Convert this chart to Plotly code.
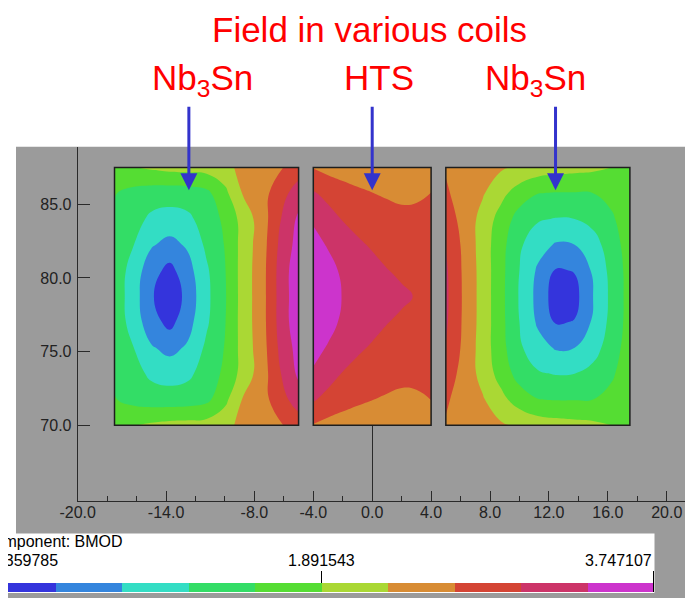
import numpy as np
import plotly.graph_objects as go

W, H = 693, 598
OFF = 8  # page body margin; all pixel positions below are page pixels

# ---------------- legend / colour scale ----------------
B_MIN = 0.0359785
B_MID = 1.891543
B_MAX = 3.747107
N_BANDS = 10
band_colors = ["#3434dc", "#3485dd", "#33ddc4", "#33dd66", "#55dd33",
               "#aad834", "#d88c34", "#d44434", "#cc3468", "#cc34cc"]
legend_title = "Component: BMOD"
legend_labels = ["0.0359785", "1.891543", "3.747107"]

# ---------------- axes ----------------
x_tick_vals = [-20, -14, -8, -4, 0, 4, 8, 12, 16, 20]
x_minor_vals = [-18, -16, -12, -10, -6, -2, 2, 6, 10, 14, 18]
y_tick_vals = [70, 75, 80, 85]

# ---------------- coils ----------------
coil_names = ["Nb<sub>3</sub>Sn", "HTS", "Nb<sub>3</sub>Sn"]
coil_x0 = [-17.5, -4.0, 5.0]
coil_x1 = [-5.0, 4.0, 17.5]
coil_y0 = 70.0
coil_y1 = 87.5
arrow_x = [-12.45, 0.0, 12.45]
arrow_tip_y = 85.95

coil_y = [70.0, 71.75, 73.5, 75.25, 77.0, 78.75, 80.5, 82.25, 84.0, 85.75, 87.5]

# Field level read from the colour bands (0 = bottom of dark-blue band, 10 = top of magenta)
# rows listed top (y=87.5) to bottom (y=70.0)
left_x = [-17.5, -16.25, -15.0, -13.75, -12.5, -11.25, -10.0, -8.75, -7.5, -6.25, -5.0]
left_level = [
    [4.5, 4.95, 5.15, 5.3, 5.35, 5.4, 5.65, 6.35, 6.55, 6.9, 7.5],
    [4.05, 3.7, 3.5, 3.45, 3.5, 3.75, 4.75, 6.1, 6.6, 7.6, 8.5],
    [3.9, 3.4, 2.8, 2.6, 2.8, 3.45, 4.2, 5.4, 6.5, 7.95, 9.2],
    [3.75, 3.05, 2.1, 1.7, 2.15, 3.2, 4.05, 5.4, 6.55, 8.2, 9.4],
    [3.65, 2.6, 1.4, 0.7, 1.65, 2.85, 3.95, 5.45, 6.6, 8.35, 9.7],
    [3.6, 2.52, 1.13, 0.2, 1.4, 2.76, 3.9, 5.45, 6.6, 8.35, 9.7],
    [3.65, 2.6, 1.4, 0.7, 1.65, 2.85, 3.95, 5.45, 6.6, 8.35, 9.7],
    [3.75, 3.05, 2.1, 1.7, 2.15, 3.2, 4.05, 5.4, 6.55, 8.2, 9.4],
    [3.9, 3.4, 2.8, 2.6, 2.8, 3.45, 4.2, 5.4, 6.5, 7.95, 9.2],
    [4.05, 3.7, 3.5, 3.45, 3.5, 3.75, 4.75, 6.1, 6.6, 7.6, 8.5],
    [4.5, 4.95, 5.15, 5.3, 5.35, 5.4, 5.65, 6.35, 6.55, 6.9, 7.5],
]

hts_x = [-4.0, -3.0, -2.0, -1.0, 0.0, 1.0, 2.0, 3.0, 4.0]
hts_level = [
    [6.95, 6.7, 6.5, 6.4, 6.3, 6.25, 6.2, 6.25, 6.35],
    [8.1, 7.7, 7.45, 7.2, 7.02, 6.9, 6.8, 6.85, 7.02],
    [8.85, 8.4, 7.95, 7.7, 7.5, 7.35, 7.25, 7.25, 7.2],
    [9.4, 8.9, 8.5, 8.15, 7.9, 7.7, 7.6, 7.5, 7.4],
    [9.8, 9.4, 8.8, 8.55, 8.3, 8.03, 7.85, 7.75, 7.6],
    [9.95, 9.55, 8.95, 8.7, 8.5, 8.35, 8.15, 7.95, 7.7],
    [9.8, 9.4, 8.8, 8.55, 8.3, 8.03, 7.85, 7.75, 7.6],
    [9.4, 8.9, 8.5, 8.15, 7.9, 7.7, 7.6, 7.5, 7.4],
    [8.85, 8.4, 7.95, 7.7, 7.5, 7.35, 7.25, 7.25, 7.2],
    [8.1, 7.7, 7.45, 7.2, 7.02, 6.9, 6.8, 6.85, 7.02],
    [6.95, 6.7, 6.5, 6.4, 6.3, 6.25, 6.2, 6.25, 6.35],
]

right_x = [5.0, 6.25, 7.5, 8.75, 10.0, 11.25, 12.5, 13.75, 15.0, 16.25, 17.5]
right_level = [
    [6.9, 6.5, 6.3, 6.12, 5.85, 5.55, 5.4, 5.3, 5.2, 5.0, 4.8],
    [7.15, 6.5, 6.1, 5.3, 4.5, 4.02, 3.95, 3.95, 4.0, 4.3, 4.7],
    [7.5, 6.65, 5.65, 4.6, 3.6, 3.1, 2.95, 3.0, 3.3, 3.85, 4.6],
    [7.95, 6.75, 5.55, 4.35, 3.15, 2.4, 1.9, 2.0, 2.6, 3.5, 4.5],
    [8.15, 6.8, 5.6, 4.3, 3.0, 1.85, 0.9, 1.05, 2.15, 3.3, 4.4],
    [8.2, 6.82, 5.6, 4.29, 2.92, 1.7, 0.47, 0.67, 2.0, 3.24, 4.4],
    [8.15, 6.8, 5.6, 4.3, 3.0, 1.85, 0.9, 1.05, 2.15, 3.3, 4.4],
    [7.95, 6.75, 5.55, 4.35, 3.15, 2.4, 1.9, 2.0, 2.6, 3.5, 4.5],
    [7.5, 6.65, 5.65, 4.6, 3.6, 3.1, 2.95, 3.0, 3.3, 3.85, 4.6],
    [7.15, 6.5, 6.1, 5.3, 4.5, 4.02, 3.95, 3.95, 4.0, 4.3, 4.7],
    [6.9, 6.5, 6.3, 6.12, 5.85, 5.55, 5.4, 5.3, 5.2, 5.0, 4.8],
]

# ---------------- derived scale ----------------
B_STEP = (B_MAX - B_MIN) / N_BANDS
levels = [B_MIN + k * B_STEP for k in range(N_BANDS + 1)]


def to_bmod(level_rows):
    arr = np.array(level_rows[::-1], dtype=float)  # bottom-to-top
    return B_MIN + arr * B_STEP


cscale = [[k / (N_BANDS - 1), c] for k, c in enumerate(band_colors)]


# ---------------- pixel layout helpers (page px -> paper) ----------------
def pxx(p):
    return (p - OFF) / W


def pxy(p):
    return 1 - (p - OFF) / H


GRAY = "#9b9b9b"
AX_COL = "#2a2a2a"
FONT = "Arial, Liberation Sans, sans-serif"

X_LEFT_PX, X_AXIS_PX, TOP_PX = 77.7, 501.0, 146.7
PX_PER_UNIT = 14.725
x_range = [-20.0, -20.0 + (W + OFF - X_LEFT_PX) / PX_PER_UNIT]
y85_px = 204.3
y_range = [85 - (X_AXIS_PX - y85_px) / PX_PER_UNIT, 85 + (y85_px - TOP_PX) / PX_PER_UNIT]

fig = go.Figure()

for xs, lv in [(left_x, left_level), (hts_x, hts_level), (right_x, right_level)]:
    fig.add_trace(go.Contour(
        x=xs, y=coil_y, z=to_bmod(lv),
        autocontour=False,
        contours=dict(start=levels[1], end=levels[N_BANDS - 1], size=B_STEP,
                      coloring="fill", showlines=False),
        colorscale=cscale, showscale=False,
        line=dict(width=0, smoothing=1.3),
        hoverinfo="skip", xaxis="x", yaxis="y",
    ))

# legend colour bar (bottom) as a heatmap on its own axes
BAR_L_PX, BAR_R_PX = -11.0, 654.0
BAR_T_PX, BAR_B_PX = 583.0, 592.0
x2_lo = B_MIN + (OFF - BAR_L_PX) / (BAR_R_PX - BAR_L_PX) * (B_MAX - B_MIN)

fig.add_trace(go.Heatmap(
    x=levels, y=[0, 1], z=[list(range(N_BANDS))],
    colorscale=cscale, zmin=0, zmax=N_BANDS - 1,
    showscale=False, hoverinfo="skip", xaxis="x2", yaxis="y2",
))

# legend texts that run off the left edge (clipped by their own axes)
FS_LEG = 16
fig.add_trace(go.Scatter(
    x=[-17, -17.5], y=[547 - 4, 565.5 - 4],
    text=[legend_title, legend_labels[0]], mode="text", textposition="middle right",
    textfont=dict(family=FONT, size=FS_LEG, color="black"),
    cliponaxis=True, hoverinfo="skip", xaxis="x3", yaxis="y3",
))

shapes = []
shapes.append(dict(type="rect", xref="paper", yref="paper", x0=pxx(16), x1=1.05,
                   y0=-0.05, y1=pxy(TOP_PX), fillcolor=GRAY, line=dict(width=0), layer="below"))
shapes.append(dict(type="rect", xref="paper", yref="paper", x0=-0.05, x1=pxx(BAR_R_PX + 0.5),
                   y0=pxy(593), y1=pxy(533.5), fillcolor="white", line=dict(width=0), layer="below"))
shapes.append(dict(type="rect", xref="paper", yref="paper", x0=-0.05, x1=pxx(16),
                   y0=-0.05, y1=pxy(593), fillcolor=GRAY, line=dict(width=0), layer="below"))
for a, b in zip(coil_x0, coil_x1):
    shapes.append(dict(type="rect", xref="x", yref="y", x0=a, x1=b, y0=coil_y0, y1=coil_y1,
                       line=dict(color="#1e1e1e", width=1.5), fillcolor="rgba(0,0,0,0)", layer="above"))
shapes.append(dict(type="line", xref="x2", yref="paper", x0=B_MID, x1=B_MID,
                   y0=pxy(BAR_T_PX), y1=pxy(571), line=dict(color="black", width=1)))
shapes.append(dict(type="line", xref="paper", yref="paper", x0=pxx(BAR_R_PX - 0.5), x1=pxx(BAR_R_PX - 0.5),
                   y0=pxy(BAR_B_PX), y1=pxy(571), line=dict(color="black", width=1)))

annotations = []
annotations.append(dict(text="Field in various coils", xref="paper", yref="paper",
                        x=pxx(369), y=pxy(8.2), xanchor="center", yanchor="top",
                        showarrow=False, font=dict(family=FONT, size=35, color="#ff0000")))
label_px = [202.5, 379.0, 535.0]
for name, lx in zip(coil_names, label_px):
    annotations.append(dict(text=name, xref="paper", yref="paper",
                            x=pxx(lx), y=pxy(55.5), xanchor="center", yanchor="top",
                            showarrow=False, font=dict(family=FONT, size=35, color="#ff0000")))
for ax_ in arrow_x:
    annotations.append(dict(text="", x=ax_, y=arrow_tip_y, xref="x", yref="y",
                            showarrow=True, ax=0, ay=-85, arrowhead=2, arrowsize=1.13,
                            arrowwidth=3, arrowcolor="#3333cc"))
annotations.append(dict(text=legend_labels[1], xref="paper", yref="paper", x=pxx(321.7),
                        y=pxy(565.5 - 0.905 * FS_LEG - 1), xanchor="center", yanchor="top",
                        showarrow=False, font=dict(family=FONT, size=FS_LEG, color="black")))
annotations.append(dict(text=legend_labels[2], xref="paper", yref="paper", x=pxx(653.5),
                        y=pxy(565.5 - 0.905 * FS_LEG - 1), xanchor="right", yanchor="top",
                        showarrow=False, font=dict(family=FONT, size=FS_LEG, color="black")))

hidden = dict(visible=False, fixedrange=True, automargin=False)
fig.update_layout(
    width=W, height=H, autosize=False,
    margin=dict(l=0, r=0, t=0, b=0, pad=0, autoexpand=False),
    paper_bgcolor="white", plot_bgcolor="rgba(0,0,0,0)",
    showlegend=False,
    xaxis=dict(domain=[pxx(X_LEFT_PX), 1.0], range=x_range, anchor="y", automargin=False,
               tickmode="array", tickvals=x_tick_vals,
               ticktext=[f"{v:.1f}" for v in x_tick_vals],
               ticks="inside", ticklen=10, tickwidth=1, tickcolor=AX_COL,
               ticklabelstandoff=-3,
               minor=dict(tickmode="array", tickvals=x_minor_vals, ticks="inside",
                          ticklen=5, tickwidth=1, tickcolor=AX_COL),
               showline=True, linecolor=AX_COL, linewidth=1,
               showgrid=False, zeroline=True, zerolinecolor=AX_COL, zerolinewidth=1,
               tickfont=dict(family=FONT, size=16, color="#222222")),
    yaxis=dict(domain=[pxy(X_AXIS_PX), pxy(TOP_PX)], range=y_range, anchor="x", automargin=False,
               tickmode="array", tickvals=y_tick_vals,
               ticktext=[f"{v:.1f}" for v in y_tick_vals],
               ticks="inside", ticklen=12, tickwidth=1, tickcolor=AX_COL,
               ticklabelstandoff=2,
               showline=True, linecolor=AX_COL, linewidth=1,
               showgrid=False, zeroline=False,
               tickfont=dict(family=FONT, size=16, color="#222222")),
    xaxis2=dict(domain=[0.0, pxx(BAR_R_PX)], range=[x2_lo, B_MAX], anchor="y2", **hidden),
    yaxis2=dict(domain=[pxy(BAR_B_PX), pxy(BAR_T_PX)], range=[0, 1], anchor="x2", **hidden),
    xaxis3=dict(domain=[0.0, pxx(BAR_R_PX)], range=[OFF, BAR_R_PX], anchor="y3", **hidden),
    yaxis3=dict(domain=[pxy(593), pxy(533.5)], range=[593, 533.5], anchor="x3", **hidden),
    shapes=shapes,
    annotations=annotations,
)

fig.write_html("out.html")
